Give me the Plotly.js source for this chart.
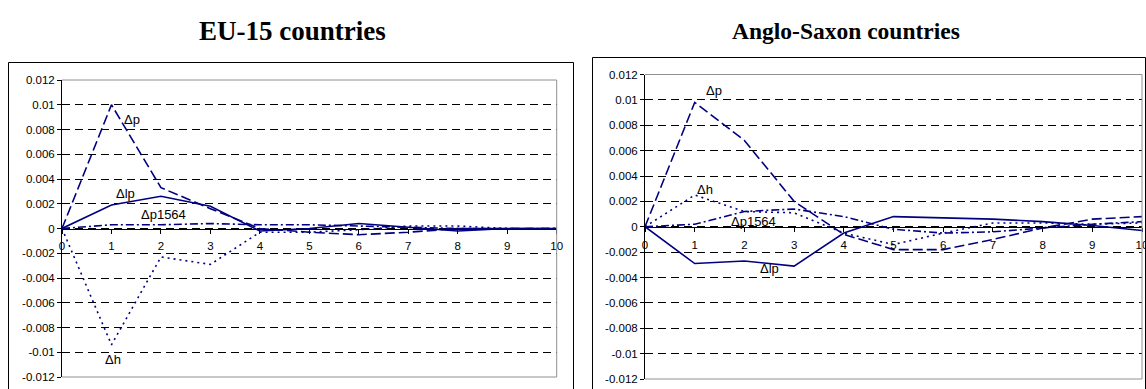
<!DOCTYPE html>
<html>
<head>
<meta charset="utf-8">
<script src="https://cdn.plot.ly/plotly-3.0.1.min.js"></script>
<style>html,body{margin:0;padding:0;background:#fff;}#chart{width:1146px;height:389px;}</style>
</head>
<body>
<div id="chart"></div>
<script>
// ---- data ----
const steps = [0, 1, 2, 3, 4, 5, 6, 7, 8, 9, 10];
const xTickLabels = ['0', '1', '2', '3', '4', '5', '6', '7', '8', '9', '10'];
const yTickVals = [0.012, 0.01, 0.008, 0.006, 0.004, 0.002, 0, -0.002, -0.004, -0.006, -0.008, -0.01, -0.012];
const yTickLabels = ['0.012', '0.01', '0.008', '0.006', '0.004', '0.002', '0', '-0.002', '-0.004', '-0.006', '-0.008', '-0.01', '-0.012'];
const panelTitles = ['EU-15 countries', 'Anglo-Saxon countries'];
const seriesNames = ['\u0394p', '\u0394lp', '\u0394h', '\u0394p1564'];

// EU-15 countries
const euDp     = [0, 0.0100, 0.0033, 0.0016, 0.0000, -0.0003, -0.0005, -0.0003, 0.0000, 0.0000, 0.0000];
const euDlp    = [0, 0.0019, 0.0026, 0.0018, -0.0002, 0.0000, 0.0004, 0.0001, -0.0002, 0.0000, 0.0000];
const euDh     = [0, -0.0094, -0.0023, -0.0029, -0.0003, -0.0003, -0.0001, 0.0002, 0.0002, 0.0000, 0.0000];
const euDp1564 = [0, 0.0003, 0.0003, 0.0004, 0.0003, 0.0003, 0.0002, 0.0001, 0.0000, 0.0000, 0.0000];

// Anglo-Saxon countries
const asDp     = [0, 0.0098, 0.0068, 0.0020, -0.0006, -0.0018, -0.0018, -0.0010, -0.0001, 0.0006, 0.0008];
const asDlp    = [0, -0.0029, -0.0027, -0.0031, -0.0005, 0.0008, 0.0007, 0.0006, 0.0004, 0.0001, -0.0003];
const asDh     = [0, 0.0025, 0.0012, 0.0011, -0.0005, -0.0014, -0.0005, 0.0003, 0.0003, 0.0002, 0.0003];
const asDp1564 = [0, 0.0002, 0.0012, 0.0014, 0.0008, -0.0002, -0.0005, -0.0004, -0.0001, 0.0002, 0.0004];

// ---- styles ----
const navy = '#000080';
const dashes = ['10px,4px', 'solid', '2px,4px', '8px,3px,2px,3px'];

function mk(y, i, xa, ya) {
  return {x: steps, y: y, xaxis: xa, yaxis: ya, type: 'scatter', mode: 'lines',
    name: seriesNames[i], line: {color: navy, width: 1.6, dash: dashes[i]},
    hoverinfo: 'skip', showlegend: false};
}

const traces = [
  mk(euDp, 0, 'x', 'y'), mk(euDlp, 1, 'x', 'y'), mk(euDh, 2, 'x', 'y'), mk(euDp1564, 3, 'x', 'y'),
  mk(asDp, 0, 'x2', 'y2'), mk(asDlp, 1, 'x2', 'y2'), mk(asDh, 2, 'x2', 'y2'), mk(asDp1564, 3, 'x2', 'y2')
];

const W = 1146, H = 389;
const tickFont = {family: 'Liberation Sans, Arial, sans-serif', size: 11.5, color: '#000'};

function yDom(topPx, botPx) { return [1 - botPx / H, 1 - topPx / H]; }
const yd1 = yDom(80, 377), yd2 = yDom(74.5, 379);

function xAx(dom, pos) {
  return {domain: dom, range: [0, 10], anchor: 'free', position: pos,
    showline: true, linecolor: '#000', linewidth: 1, ticks: 'outside', ticklen: 4, tickcolor: '#000',
    tickvals: steps, ticktext: xTickLabels, tickfont: tickFont, showgrid: false, zeroline: false,
    ticklabelstandoff: 3, ticklabeloverflow: 'allow', fixedrange: true};
}
function yAx(dom, anchorX) {
  return {domain: dom, range: [-0.012, 0.012], anchor: anchorX, showline: true, linecolor: '#000', linewidth: 1,
    ticks: 'outside', ticklen: 4, tickcolor: '#000', tickvals: yTickVals, ticktext: yTickLabels,
    tickfont: tickFont, showgrid: true, gridcolor: '#000', gridwidth: 1, griddash: '8px,5px',
    zeroline: false, fixedrange: true};
}

function border(xr, yr) {
  const c = {color: '#909090', width: 1};
  return [
    {type: 'line', xref: xr + ' domain', yref: yr + ' domain', x0: 0, x1: 1, y0: 1, y1: 1, line: c},
    {type: 'line', xref: xr + ' domain', yref: yr + ' domain', x0: 1, x1: 1, y0: 0, y1: 1, line: c},
    {type: 'line', xref: xr + ' domain', yref: yr + ' domain', x0: 0, x1: 1, y0: 0, y1: 0, line: c}
  ];
}

const shapes = [].concat(border('x', 'y'), border('x2', 'y2'), [
  {type: 'rect', xref: 'paper', yref: 'paper', x0: 8.5 / W, x1: 573.5 / W, y0: -0.1, y1: 1 - 62.5 / H, line: {color: '#000', width: 1}},
  {type: 'rect', xref: 'paper', yref: 'paper', x0: 592.5 / W, x1: 1145.5 / W, y0: -0.1, y1: 1 - 57.5 / H, line: {color: '#000', width: 1}}
]);

const lblFont = {family: 'Liberation Sans, Arial, sans-serif', size: 13, color: '#000'};
function lbl(text, x, y, xr, yr) {
  return {text: text, x: x, y: y, xref: xr, yref: yr, showarrow: false, font: lblFont, xanchor: 'center', yanchor: 'middle'};
}
const titleFont1 = {family: 'Liberation Serif, Times New Roman, serif', size: 27, color: '#000'};
const titleFont2 = {family: 'Liberation Serif, Times New Roman, serif', size: 23.5, color: '#000'};

const annotations = [
  {text: '<b>' + panelTitles[0] + '</b>', x: 292 / W, y: 1 - 31 / H, xref: 'paper', yref: 'paper', showarrow: false, font: titleFont1, xanchor: 'center', yanchor: 'middle'},
  {text: '<b>' + panelTitles[1] + '</b>', x: 846 / W, y: 1 - 31 / H, xref: 'paper', yref: 'paper', showarrow: false, font: titleFont2, xanchor: 'center', yanchor: 'middle'},
  lbl(seriesNames[0], 1.42, 0.0088, 'x', 'y'),
  lbl(seriesNames[1], 1.28, 0.0028, 'x', 'y'),
  lbl(seriesNames[3], 2.06, 0.0011, 'x', 'y'),
  lbl(seriesNames[2], 1.04, -0.0106, 'x', 'y'),
  lbl(seriesNames[0], 1.38, 0.0107, 'x2', 'y2'),
  lbl(seriesNames[2], 1.20, 0.0029, 'x2', 'y2'),
  lbl(seriesNames[3], 2.19, 0.0004, 'x2', 'y2'),
  lbl(seriesNames[1], 2.50, -0.0033, 'x2', 'y2')
];

const layout = {
  width: W, height: H, margin: {l: 0, r: 0, t: 0, b: 0, pad: 0},
  paper_bgcolor: '#fff', plot_bgcolor: '#fff', showlegend: false,
  xaxis: xAx([62 / W, 556.7 / W], (yd1[0] + yd1[1]) / 2),
  yaxis: yAx(yd1, 'x'),
  xaxis2: xAx([645 / W, 1142 / W], (yd2[0] + yd2[1]) / 2),
  yaxis2: yAx(yd2, 'x2'),
  shapes: shapes, annotations: annotations
};

Plotly.newPlot('chart', traces, layout, {staticPlot: true, displayModeBar: false});
</script>
</body>
</html>
